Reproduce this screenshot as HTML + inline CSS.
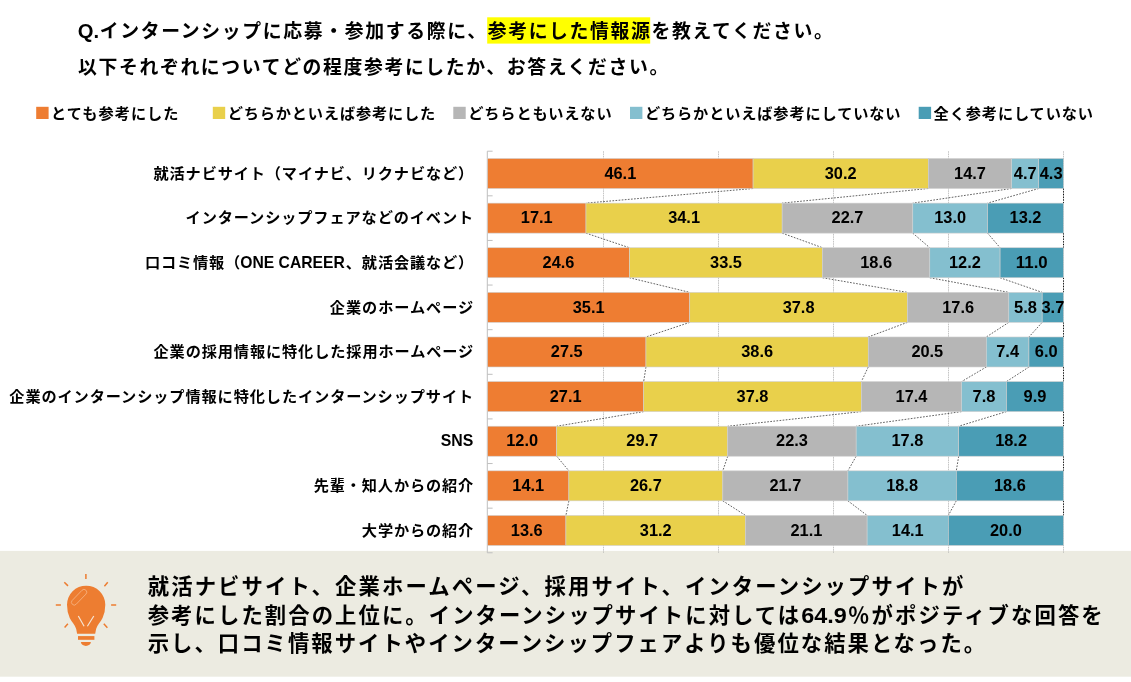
<!DOCTYPE html>
<html lang="ja"><head><meta charset="utf-8"><title>インターンシップ 参考にした情報源</title>
<style>
html,body{margin:0;padding:0;background:#fff;}
body{width:1131px;height:682px;overflow:hidden;font-family:"Liberation Sans","Noto Sans CJK JP",sans-serif;}
svg{display:block;will-change:transform;}
</style></head><body>
<svg width="1131" height="682" viewBox="0 0 1131 682" font-family="'Liberation Sans', 'Noto Sans CJK JP', sans-serif" font-weight="bold"><rect x="0" y="550.9" width="1131" height="125.8" fill="#ECEBE1"/>
<rect x="487.2" y="17.3" width="163" height="26.3" fill="#FFFF00"/>
<g fill="#000000"><text x="99.84" y="37.6" font-size="18.85" textLength="733" lengthAdjust="spacing">インターンシップに応募・参加する際に、参考にした情報源を教えてください。</text><text x="77.7" y="37.6" font-size="20.3" textLength="21.39" lengthAdjust="spacingAndGlyphs">Q.</text></g>
<g fill="#000000"><text x="78.1" y="74" font-size="18.85" textLength="590.2" lengthAdjust="spacing">以下それぞれについてどの程度参考にしたか、お答えください。</text></g>
<rect x="36.2" y="106.8" width="12.4" height="12.2" fill="#EE7D32"/>
<g fill="#000000"><text x="51.1" y="118.55" font-size="15.2" textLength="127.4" lengthAdjust="spacing">とても参考にした</text></g>
<rect x="212.8" y="106.8" width="12.4" height="12.2" fill="#E9D04B"/>
<g fill="#000000"><text x="227.7" y="118.55" font-size="15.2" textLength="207.5" lengthAdjust="spacing">どちらかといえば参考にした</text></g>
<rect x="453.3" y="106.8" width="12.4" height="12.2" fill="#B6B6B6"/>
<g fill="#000000"><text x="468.2" y="118.55" font-size="15.2" textLength="143.4" lengthAdjust="spacing">どちらともいえない</text></g>
<rect x="630" y="106.8" width="12.4" height="12.2" fill="#84BFCF"/>
<g fill="#000000"><text x="644.9" y="118.55" font-size="15.2" textLength="255.6" lengthAdjust="spacing">どちらかといえば参考にしていない</text></g>
<rect x="918.7" y="106.8" width="12.4" height="12.2" fill="#4A9DB5"/>
<g fill="#000000"><text x="933.6" y="118.55" font-size="15.2" textLength="159.4" lengthAdjust="spacing">全く参考にしていない</text></g>
<line x1="603.5" y1="151.2" x2="603.5" y2="552.78" stroke="#ADADAD" stroke-width="0.7" stroke-dasharray="1.6 0.7"/>
<line x1="718.5" y1="151.2" x2="718.5" y2="552.78" stroke="#ADADAD" stroke-width="0.7" stroke-dasharray="1.6 0.7"/>
<line x1="833.5" y1="151.2" x2="833.5" y2="552.78" stroke="#ADADAD" stroke-width="0.7" stroke-dasharray="1.6 0.7"/>
<line x1="948.5" y1="151.2" x2="948.5" y2="552.78" stroke="#ADADAD" stroke-width="0.7" stroke-dasharray="1.6 0.7"/>
<line x1="1063.5" y1="151.2" x2="1063.5" y2="552.78" stroke="#ADADAD" stroke-width="0.7" stroke-dasharray="1.6 0.7"/>
<line x1="487.3" y1="151.2" x2="487.3" y2="552.78" stroke="#BFBFBF" stroke-width="1"/>
<line x1="487.3" y1="151.2" x2="492.6" y2="151.2" stroke="#BFBFBF" stroke-width="1"/>
<line x1="487.3" y1="195.82" x2="492.6" y2="195.82" stroke="#BFBFBF" stroke-width="1"/>
<line x1="487.3" y1="240.44" x2="492.6" y2="240.44" stroke="#BFBFBF" stroke-width="1"/>
<line x1="487.3" y1="285.06" x2="492.6" y2="285.06" stroke="#BFBFBF" stroke-width="1"/>
<line x1="487.3" y1="329.68" x2="492.6" y2="329.68" stroke="#BFBFBF" stroke-width="1"/>
<line x1="487.3" y1="374.3" x2="492.6" y2="374.3" stroke="#BFBFBF" stroke-width="1"/>
<line x1="487.3" y1="418.92" x2="492.6" y2="418.92" stroke="#BFBFBF" stroke-width="1"/>
<line x1="487.3" y1="463.54" x2="492.6" y2="463.54" stroke="#BFBFBF" stroke-width="1"/>
<line x1="487.3" y1="508.16" x2="492.6" y2="508.16" stroke="#BFBFBF" stroke-width="1"/>
<line x1="487.3" y1="552.78" x2="492.6" y2="552.78" stroke="#BFBFBF" stroke-width="1"/>
<line x1="753.09" y1="188.5" x2="585.98" y2="203.12" stroke="#000" stroke-width="0.62" stroke-dasharray="1.7 1.4"/>
<line x1="928.31" y1="188.5" x2="782.17" y2="203.12" stroke="#000" stroke-width="0.62" stroke-dasharray="1.7 1.4"/>
<line x1="1011.67" y1="188.5" x2="912.76" y2="203.12" stroke="#000" stroke-width="0.62" stroke-dasharray="1.7 1.4"/>
<line x1="1038.74" y1="188.5" x2="987.56" y2="203.12" stroke="#000" stroke-width="0.62" stroke-dasharray="1.7 1.4"/>
<line x1="1063.5" y1="188.5" x2="1063.5" y2="203.12" stroke="#111" stroke-width="1" stroke-dasharray="1.3 1.4"/>
<line x1="585.98" y1="233.12" x2="629.41" y2="247.74" stroke="#000" stroke-width="0.62" stroke-dasharray="1.7 1.4"/>
<line x1="782.17" y1="233.12" x2="822.53" y2="247.74" stroke="#000" stroke-width="0.62" stroke-dasharray="1.7 1.4"/>
<line x1="912.76" y1="233.12" x2="929.76" y2="247.74" stroke="#000" stroke-width="0.62" stroke-dasharray="1.7 1.4"/>
<line x1="987.56" y1="233.12" x2="1000.09" y2="247.74" stroke="#000" stroke-width="0.62" stroke-dasharray="1.7 1.4"/>
<line x1="1063.5" y1="233.12" x2="1063.5" y2="247.74" stroke="#111" stroke-width="1" stroke-dasharray="1.3 1.4"/>
<line x1="629.41" y1="277.74" x2="689.74" y2="292.36" stroke="#000" stroke-width="0.62" stroke-dasharray="1.7 1.4"/>
<line x1="822.53" y1="277.74" x2="907.43" y2="292.36" stroke="#000" stroke-width="0.62" stroke-dasharray="1.7 1.4"/>
<line x1="929.76" y1="277.74" x2="1008.79" y2="292.36" stroke="#000" stroke-width="0.62" stroke-dasharray="1.7 1.4"/>
<line x1="1000.09" y1="277.74" x2="1042.19" y2="292.36" stroke="#000" stroke-width="0.62" stroke-dasharray="1.7 1.4"/>
<line x1="1063.5" y1="277.74" x2="1063.5" y2="292.36" stroke="#111" stroke-width="1" stroke-dasharray="1.3 1.4"/>
<line x1="689.74" y1="322.36" x2="645.97" y2="336.98" stroke="#000" stroke-width="0.62" stroke-dasharray="1.7 1.4"/>
<line x1="907.43" y1="322.36" x2="868.27" y2="336.98" stroke="#000" stroke-width="0.62" stroke-dasharray="1.7 1.4"/>
<line x1="1008.79" y1="322.36" x2="986.33" y2="336.98" stroke="#000" stroke-width="0.62" stroke-dasharray="1.7 1.4"/>
<line x1="1042.19" y1="322.36" x2="1028.95" y2="336.98" stroke="#000" stroke-width="0.62" stroke-dasharray="1.7 1.4"/>
<line x1="1063.5" y1="322.36" x2="1063.5" y2="336.98" stroke="#111" stroke-width="1" stroke-dasharray="1.3 1.4"/>
<line x1="645.97" y1="366.98" x2="643.67" y2="381.6" stroke="#000" stroke-width="0.62" stroke-dasharray="1.7 1.4"/>
<line x1="868.27" y1="366.98" x2="861.36" y2="381.6" stroke="#000" stroke-width="0.62" stroke-dasharray="1.7 1.4"/>
<line x1="986.33" y1="366.98" x2="961.57" y2="381.6" stroke="#000" stroke-width="0.62" stroke-dasharray="1.7 1.4"/>
<line x1="1028.95" y1="366.98" x2="1006.49" y2="381.6" stroke="#000" stroke-width="0.62" stroke-dasharray="1.7 1.4"/>
<line x1="1063.5" y1="366.98" x2="1063.5" y2="381.6" stroke="#111" stroke-width="1" stroke-dasharray="1.3 1.4"/>
<line x1="643.67" y1="411.6" x2="556.71" y2="426.22" stroke="#000" stroke-width="0.62" stroke-dasharray="1.7 1.4"/>
<line x1="861.36" y1="411.6" x2="727.75" y2="426.22" stroke="#000" stroke-width="0.62" stroke-dasharray="1.7 1.4"/>
<line x1="961.57" y1="411.6" x2="856.18" y2="426.22" stroke="#000" stroke-width="0.62" stroke-dasharray="1.7 1.4"/>
<line x1="1006.49" y1="411.6" x2="958.69" y2="426.22" stroke="#000" stroke-width="0.62" stroke-dasharray="1.7 1.4"/>
<line x1="1063.5" y1="411.6" x2="1063.5" y2="426.22" stroke="#111" stroke-width="1" stroke-dasharray="1.3 1.4"/>
<line x1="556.71" y1="456.22" x2="568.88" y2="470.84" stroke="#000" stroke-width="0.62" stroke-dasharray="1.7 1.4"/>
<line x1="727.75" y1="456.22" x2="722.8" y2="470.84" stroke="#000" stroke-width="0.62" stroke-dasharray="1.7 1.4"/>
<line x1="856.18" y1="456.22" x2="847.9" y2="470.84" stroke="#000" stroke-width="0.62" stroke-dasharray="1.7 1.4"/>
<line x1="958.69" y1="456.22" x2="956.28" y2="470.84" stroke="#000" stroke-width="0.62" stroke-dasharray="1.7 1.4"/>
<line x1="1063.5" y1="456.22" x2="1063.5" y2="470.84" stroke="#111" stroke-width="1" stroke-dasharray="1.3 1.4"/>
<line x1="568.88" y1="500.84" x2="565.92" y2="515.46" stroke="#000" stroke-width="0.62" stroke-dasharray="1.7 1.4"/>
<line x1="722.8" y1="500.84" x2="745.6" y2="515.46" stroke="#000" stroke-width="0.62" stroke-dasharray="1.7 1.4"/>
<line x1="847.9" y1="500.84" x2="867.12" y2="515.46" stroke="#000" stroke-width="0.62" stroke-dasharray="1.7 1.4"/>
<line x1="956.28" y1="500.84" x2="948.32" y2="515.46" stroke="#000" stroke-width="0.62" stroke-dasharray="1.7 1.4"/>
<line x1="1063.5" y1="500.84" x2="1063.5" y2="515.46" stroke="#111" stroke-width="1" stroke-dasharray="1.3 1.4"/>
<rect x="487.6" y="158.5" width="265.49" height="30" fill="#EE7D32" stroke="#D0D0D0" stroke-width="0.6"/>
<g fill="#000000"><text x="604.42" y="178.7" font-size="16.37" textLength="31.84" lengthAdjust="spacingAndGlyphs">46.1</text></g>
<rect x="753.09" y="158.5" width="175.22" height="30" fill="#E9D04B" stroke="#D0D0D0" stroke-width="0.6"/>
<g fill="#000000"><text x="824.78" y="178.7" font-size="16.37" textLength="31.84" lengthAdjust="spacingAndGlyphs">30.2</text></g>
<rect x="928.31" y="158.5" width="83.36" height="30" fill="#B6B6B6" stroke="#D0D0D0" stroke-width="0.6"/>
<g fill="#000000"><text x="954.07" y="178.7" font-size="16.37" textLength="31.84" lengthAdjust="spacingAndGlyphs">14.7</text></g>
<rect x="1011.67" y="158.5" width="27.07" height="30" fill="#84BFCF" stroke="#D0D0D0" stroke-width="0.6"/>
<g fill="#000000"><text x="1013.76" y="178.7" font-size="16.37" textLength="22.88" lengthAdjust="spacingAndGlyphs">4.7</text></g>
<rect x="1038.74" y="158.5" width="24.76" height="30" fill="#4A9DB5" stroke="#D0D0D0" stroke-width="0.6"/>
<g fill="#000000"><text x="1039.68" y="178.7" font-size="16.37" textLength="22.88" lengthAdjust="spacingAndGlyphs">4.3</text></g>
<g fill="#000000"><text x="153.52" y="178.75" font-size="15.2" textLength="319.7" lengthAdjust="spacing">就活ナビサイト（マイナビ、リクナビなど）</text></g>
<rect x="487.6" y="203.12" width="98.38" height="30" fill="#EE7D32" stroke="#D0D0D0" stroke-width="0.6"/>
<g fill="#000000"><text x="520.87" y="223.32" font-size="16.37" textLength="31.84" lengthAdjust="spacingAndGlyphs">17.1</text></g>
<rect x="585.98" y="203.12" width="196.19" height="30" fill="#E9D04B" stroke="#D0D0D0" stroke-width="0.6"/>
<g fill="#000000"><text x="668.15" y="223.32" font-size="16.37" textLength="31.84" lengthAdjust="spacingAndGlyphs">34.1</text></g>
<rect x="782.17" y="203.12" width="130.6" height="30" fill="#B6B6B6" stroke="#D0D0D0" stroke-width="0.6"/>
<g fill="#000000"><text x="831.54" y="223.32" font-size="16.37" textLength="31.84" lengthAdjust="spacingAndGlyphs">22.7</text></g>
<rect x="912.76" y="203.12" width="74.79" height="30" fill="#84BFCF" stroke="#D0D0D0" stroke-width="0.6"/>
<g fill="#000000"><text x="934.24" y="223.32" font-size="16.37" textLength="31.84" lengthAdjust="spacingAndGlyphs">13.0</text></g>
<rect x="987.56" y="203.12" width="75.94" height="30" fill="#4A9DB5" stroke="#D0D0D0" stroke-width="0.6"/>
<g fill="#000000"><text x="1009.61" y="223.32" font-size="16.37" textLength="31.84" lengthAdjust="spacingAndGlyphs">13.2</text></g>
<g fill="#000000"><text x="185.57" y="223.37" font-size="15.2" textLength="287.6" lengthAdjust="spacing">インターンシップフェアなどのイベント</text></g>
<rect x="487.6" y="247.74" width="141.81" height="30" fill="#EE7D32" stroke="#D0D0D0" stroke-width="0.6"/>
<g fill="#000000"><text x="542.58" y="267.94" font-size="16.37" textLength="31.84" lengthAdjust="spacingAndGlyphs">24.6</text></g>
<rect x="629.41" y="247.74" width="193.12" height="30" fill="#E9D04B" stroke="#D0D0D0" stroke-width="0.6"/>
<g fill="#000000"><text x="710.05" y="267.94" font-size="16.37" textLength="31.84" lengthAdjust="spacingAndGlyphs">33.5</text></g>
<rect x="822.53" y="247.74" width="107.22" height="30" fill="#B6B6B6" stroke="#D0D0D0" stroke-width="0.6"/>
<g fill="#000000"><text x="860.22" y="267.94" font-size="16.37" textLength="31.84" lengthAdjust="spacingAndGlyphs">18.6</text></g>
<rect x="929.76" y="247.74" width="70.33" height="30" fill="#84BFCF" stroke="#D0D0D0" stroke-width="0.6"/>
<g fill="#000000"><text x="949" y="267.94" font-size="16.37" textLength="31.84" lengthAdjust="spacingAndGlyphs">12.2</text></g>
<rect x="1000.09" y="247.74" width="63.41" height="30" fill="#4A9DB5" stroke="#D0D0D0" stroke-width="0.6"/>
<g fill="#000000"><text x="1015.87" y="267.94" font-size="16.37" textLength="31.84" lengthAdjust="spacingAndGlyphs">11.0</text></g>
<g fill="#000000"><text x="144.94" y="267.99" font-size="15.2" textLength="95.2" lengthAdjust="spacing">口コミ情報（</text><text x="240.29" y="267.99" font-size="16.37" textLength="104.48" lengthAdjust="spacingAndGlyphs">ONE CAREER</text><text x="345.82" y="267.99" font-size="15.2" textLength="127.4" lengthAdjust="spacing">、就活会議など）</text></g>
<rect x="487.6" y="292.36" width="202.14" height="30" fill="#EE7D32" stroke="#D0D0D0" stroke-width="0.6"/>
<g fill="#000000"><text x="572.75" y="312.56" font-size="16.37" textLength="31.84" lengthAdjust="spacingAndGlyphs">35.1</text></g>
<rect x="689.74" y="292.36" width="217.69" height="30" fill="#E9D04B" stroke="#D0D0D0" stroke-width="0.6"/>
<g fill="#000000"><text x="782.66" y="312.56" font-size="16.37" textLength="31.84" lengthAdjust="spacingAndGlyphs">37.8</text></g>
<rect x="907.43" y="292.36" width="101.36" height="30" fill="#B6B6B6" stroke="#D0D0D0" stroke-width="0.6"/>
<g fill="#000000"><text x="942.19" y="312.56" font-size="16.37" textLength="31.84" lengthAdjust="spacingAndGlyphs">17.6</text></g>
<rect x="1008.79" y="292.36" width="33.4" height="30" fill="#84BFCF" stroke="#D0D0D0" stroke-width="0.6"/>
<g fill="#000000"><text x="1014.05" y="312.56" font-size="16.37" textLength="22.88" lengthAdjust="spacingAndGlyphs">5.8</text></g>
<rect x="1042.19" y="292.36" width="21.31" height="30" fill="#4A9DB5" stroke="#D0D0D0" stroke-width="0.6"/>
<g fill="#000000"><text x="1041.41" y="312.56" font-size="16.37" textLength="22.88" lengthAdjust="spacingAndGlyphs">3.7</text></g>
<g fill="#000000"><text x="329.8" y="312.61" font-size="15.2" textLength="143.4" lengthAdjust="spacing">企業のホームページ</text></g>
<rect x="487.6" y="336.98" width="158.37" height="30" fill="#EE7D32" stroke="#D0D0D0" stroke-width="0.6"/>
<g fill="#000000"><text x="550.86" y="357.18" font-size="16.37" textLength="31.84" lengthAdjust="spacingAndGlyphs">27.5</text></g>
<rect x="645.97" y="336.98" width="222.3" height="30" fill="#E9D04B" stroke="#D0D0D0" stroke-width="0.6"/>
<g fill="#000000"><text x="741.2" y="357.18" font-size="16.37" textLength="31.84" lengthAdjust="spacingAndGlyphs">38.6</text></g>
<rect x="868.27" y="336.98" width="118.06" height="30" fill="#B6B6B6" stroke="#D0D0D0" stroke-width="0.6"/>
<g fill="#000000"><text x="911.38" y="357.18" font-size="16.37" textLength="31.84" lengthAdjust="spacingAndGlyphs">20.5</text></g>
<rect x="986.33" y="336.98" width="42.62" height="30" fill="#84BFCF" stroke="#D0D0D0" stroke-width="0.6"/>
<g fill="#000000"><text x="996.2" y="357.18" font-size="16.37" textLength="22.88" lengthAdjust="spacingAndGlyphs">7.4</text></g>
<rect x="1028.95" y="336.98" width="34.55" height="30" fill="#4A9DB5" stroke="#D0D0D0" stroke-width="0.6"/>
<g fill="#000000"><text x="1034.78" y="357.18" font-size="16.37" textLength="22.88" lengthAdjust="spacingAndGlyphs">6.0</text></g>
<g fill="#000000"><text x="153.52" y="357.23" font-size="15.2" textLength="319.7" lengthAdjust="spacing">企業の採用情報に特化した採用ホームページ</text></g>
<rect x="487.6" y="381.6" width="156.07" height="30" fill="#EE7D32" stroke="#D0D0D0" stroke-width="0.6"/>
<g fill="#000000"><text x="549.71" y="401.8" font-size="16.37" textLength="31.84" lengthAdjust="spacingAndGlyphs">27.1</text></g>
<rect x="643.67" y="381.6" width="217.69" height="30" fill="#E9D04B" stroke="#D0D0D0" stroke-width="0.6"/>
<g fill="#000000"><text x="736.59" y="401.8" font-size="16.37" textLength="31.84" lengthAdjust="spacingAndGlyphs">37.8</text></g>
<rect x="861.36" y="381.6" width="100.21" height="30" fill="#B6B6B6" stroke="#D0D0D0" stroke-width="0.6"/>
<g fill="#000000"><text x="895.54" y="401.8" font-size="16.37" textLength="31.84" lengthAdjust="spacingAndGlyphs">17.4</text></g>
<rect x="961.57" y="381.6" width="44.92" height="30" fill="#84BFCF" stroke="#D0D0D0" stroke-width="0.6"/>
<g fill="#000000"><text x="972.59" y="401.8" font-size="16.37" textLength="22.88" lengthAdjust="spacingAndGlyphs">7.8</text></g>
<rect x="1006.49" y="381.6" width="57.01" height="30" fill="#4A9DB5" stroke="#D0D0D0" stroke-width="0.6"/>
<g fill="#000000"><text x="1023.55" y="401.8" font-size="16.37" textLength="22.88" lengthAdjust="spacingAndGlyphs">9.9</text></g>
<g fill="#000000"><text x="9.3" y="401.85" font-size="15.2" textLength="463.9" lengthAdjust="spacing">企業のインターンシップ情報に特化したインターンシップサイト</text></g>
<rect x="487.6" y="426.22" width="69.11" height="30" fill="#EE7D32" stroke="#D0D0D0" stroke-width="0.6"/>
<g fill="#000000"><text x="506.23" y="446.42" font-size="16.37" textLength="31.84" lengthAdjust="spacingAndGlyphs">12.0</text></g>
<rect x="556.71" y="426.22" width="171.04" height="30" fill="#E9D04B" stroke="#D0D0D0" stroke-width="0.6"/>
<g fill="#000000"><text x="626.31" y="446.42" font-size="16.37" textLength="31.84" lengthAdjust="spacingAndGlyphs">29.7</text></g>
<rect x="727.75" y="426.22" width="128.43" height="30" fill="#B6B6B6" stroke="#D0D0D0" stroke-width="0.6"/>
<g fill="#000000"><text x="776.04" y="446.42" font-size="16.37" textLength="31.84" lengthAdjust="spacingAndGlyphs">22.3</text></g>
<rect x="856.18" y="426.22" width="102.51" height="30" fill="#84BFCF" stroke="#D0D0D0" stroke-width="0.6"/>
<g fill="#000000"><text x="891.51" y="446.42" font-size="16.37" textLength="31.84" lengthAdjust="spacingAndGlyphs">17.8</text></g>
<rect x="958.69" y="426.22" width="104.81" height="30" fill="#4A9DB5" stroke="#D0D0D0" stroke-width="0.6"/>
<g fill="#000000"><text x="995.17" y="446.42" font-size="16.37" textLength="31.84" lengthAdjust="spacingAndGlyphs">18.2</text></g>
<g fill="#000000"><text x="440.65" y="446.47" font-size="16.37" textLength="32.55" lengthAdjust="spacingAndGlyphs">SNS</text></g>
<rect x="487.6" y="470.84" width="81.28" height="30" fill="#EE7D32" stroke="#D0D0D0" stroke-width="0.6"/>
<g fill="#000000"><text x="512.32" y="491.04" font-size="16.37" textLength="31.84" lengthAdjust="spacingAndGlyphs">14.1</text></g>
<rect x="568.88" y="470.84" width="153.92" height="30" fill="#E9D04B" stroke="#D0D0D0" stroke-width="0.6"/>
<g fill="#000000"><text x="629.92" y="491.04" font-size="16.37" textLength="31.84" lengthAdjust="spacingAndGlyphs">26.7</text></g>
<rect x="722.8" y="470.84" width="125.1" height="30" fill="#B6B6B6" stroke="#D0D0D0" stroke-width="0.6"/>
<g fill="#000000"><text x="769.43" y="491.04" font-size="16.37" textLength="31.84" lengthAdjust="spacingAndGlyphs">21.7</text></g>
<rect x="847.9" y="470.84" width="108.38" height="30" fill="#84BFCF" stroke="#D0D0D0" stroke-width="0.6"/>
<g fill="#000000"><text x="886.16" y="491.04" font-size="16.37" textLength="31.84" lengthAdjust="spacingAndGlyphs">18.8</text></g>
<rect x="956.28" y="470.84" width="107.22" height="30" fill="#4A9DB5" stroke="#D0D0D0" stroke-width="0.6"/>
<g fill="#000000"><text x="993.97" y="491.04" font-size="16.37" textLength="31.84" lengthAdjust="spacingAndGlyphs">18.6</text></g>
<g fill="#000000"><text x="313.77" y="491.09" font-size="15.2" textLength="159.4" lengthAdjust="spacing">先輩・知人からの紹介</text></g>
<rect x="487.6" y="515.46" width="78.32" height="30" fill="#EE7D32" stroke="#D0D0D0" stroke-width="0.6"/>
<g fill="#000000"><text x="510.84" y="535.66" font-size="16.37" textLength="31.84" lengthAdjust="spacingAndGlyphs">13.6</text></g>
<rect x="565.92" y="515.46" width="179.68" height="30" fill="#E9D04B" stroke="#D0D0D0" stroke-width="0.6"/>
<g fill="#000000"><text x="639.84" y="535.66" font-size="16.37" textLength="31.84" lengthAdjust="spacingAndGlyphs">31.2</text></g>
<rect x="745.6" y="515.46" width="121.51" height="30" fill="#B6B6B6" stroke="#D0D0D0" stroke-width="0.6"/>
<g fill="#000000"><text x="790.44" y="535.66" font-size="16.37" textLength="31.84" lengthAdjust="spacingAndGlyphs">21.1</text></g>
<rect x="867.12" y="515.46" width="81.2" height="30" fill="#84BFCF" stroke="#D0D0D0" stroke-width="0.6"/>
<g fill="#000000"><text x="891.8" y="535.66" font-size="16.37" textLength="31.84" lengthAdjust="spacingAndGlyphs">14.1</text></g>
<rect x="948.32" y="515.46" width="115.18" height="30" fill="#4A9DB5" stroke="#D0D0D0" stroke-width="0.6"/>
<g fill="#000000"><text x="989.99" y="535.66" font-size="16.37" textLength="31.84" lengthAdjust="spacingAndGlyphs">20.0</text></g>
<g fill="#000000"><text x="361.85" y="535.71" font-size="15.2" textLength="111.35" lengthAdjust="spacing">大学からの紹介</text></g>
<g fill="#000000"><text x="147.7" y="594.3" font-size="21.33" textLength="815.6" lengthAdjust="spacing">就活ナビサイト、企業ホームページ、採用サイト、インターンシップサイトが</text></g>
<g fill="#000000"><text x="147.7" y="622.5" font-size="21.33" textLength="651.5" lengthAdjust="spacing">参考にした割合の上位に。インターンシップサイトに対しては</text><text x="801.22" y="622.5" font-size="22.97" textLength="45.59" lengthAdjust="spacingAndGlyphs">64.9</text><text x="848.1" y="622.5" font-size="21.33" textLength="254.6" lengthAdjust="spacing">％がポジティブな回答を</text></g>
<g fill="#000000"><text x="147.7" y="650.7" font-size="21.33" textLength="837.4" lengthAdjust="spacing">示し、口コミ情報サイトやインターンシップフェアよりも優位な結果となった。</text></g>
<g id="bulb" role="img" aria-label="電球アイコン"><path d="M67 604.8A19.15 19.15 0 0 1 105.3 604.8A19.15 25.3 0 0 1 102.55 618C100.8 621.5 97.3 625 96.1 629L95.2 633.7H77.1L76.2 629C75 625 71.5 621.5 69.75 618A19.15 25.3 0 0 1 67 604.8Z" fill="#ED7D31"/><rect x="78" y="636.1" width="16.4" height="3.7" fill="#ED7D31"/><path d="M80.9 642H90.9A5 3.9 0 0 1 80.9 642Z" fill="#ED7D31"/><path d="M78.3 616L84.1 626.2M93.8 616L87.4 626.2" stroke="#F5E4D3" stroke-width="1.2" fill="none"/><rect x="69.3" y="594.5" width="19.6" height="5.5" rx="2.75" fill="none" stroke="#F5AE7A" stroke-width="0.9" transform="rotate(-46 79.1 597.25)"/><path d="M85.9 573.9V579.1M64.3 582.2L68 585.9M107.75 582.2L104.4 586.2M55.8 604.9H60.9M111.1 604.9H116.2M64.6 627.4L67.9 623.8M103.8 623.8L107.4 627.7" stroke="#ED7D31" stroke-width="1.5" fill="none"/></g></svg>
</body></html>
